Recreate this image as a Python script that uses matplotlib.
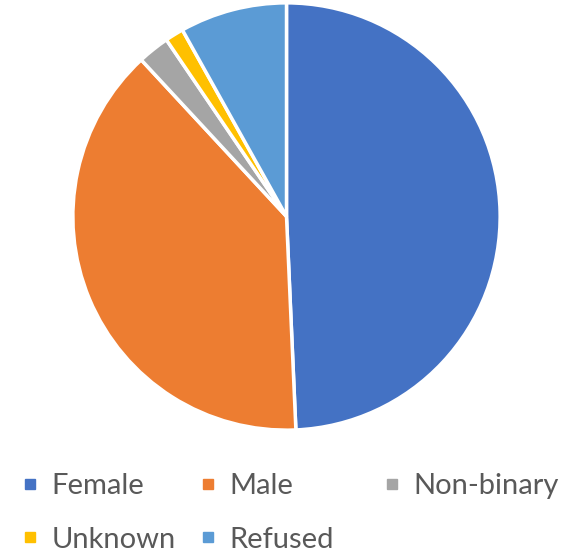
import matplotlib
matplotlib.use("Agg")
import matplotlib.pyplot as plt
from matplotlib.lines import Line2D

# share of respondents by gender (percent)
labels = ["Female", "Male", "Non-binary", "Unknown", "Refused"]
values = [49.3, 38.8, 2.4, 1.4, 8.1]
colors = ["#4472C4", "#ED7D31", "#A5A5A5", "#FFC000", "#5B9BD5"]

plt.rcParams["font.family"] = ["Lato", "DejaVu Sans"]

W, H = 587, 555
fig = plt.figure(figsize=(W / 100, H / 100), dpi=100)

# pie area: centre (286.5, 216.5) px, radius 211.5 px
cx, cy, r = 286.5, 216.5, 211.5
ax = fig.add_axes([(cx - r) / W, 1 - (cy + r) / H, 2 * r / W, 2 * r / H])
ax.pie(values, colors=colors, startangle=90, counterclock=False,
       wedgeprops=dict(edgecolor="white", linewidth=2.5))
ax.set_xlim(-0.99, 0.99)
ax.set_ylim(-0.99, 0.99)
ax.set_aspect("equal")

def handle(c):
    return Line2D([], [], marker="s", linestyle="none", markersize=7.5,
                  markerfacecolor=c, markeredgecolor=c)

# legend laid out in three columns like the Excel one
cols = [[0, 3], [1, 4], [2]]
xs = [21, 199, 383]
for col, x in zip(cols, xs):
    leg = fig.legend([handle(colors[i]) for i in col], [labels[i] for i in col],
                     loc="upper left", bbox_to_anchor=(x / W, 1 - 473 / H),
                     frameon=False, fontsize=21, handlelength=0.6,
                     handletextpad=0.45, labelspacing=0.95, borderpad=0,
                     borderaxespad=0)
    for t in leg.get_texts():
        t.set_color("#595959")

fig.savefig("out.png", dpi=100)
